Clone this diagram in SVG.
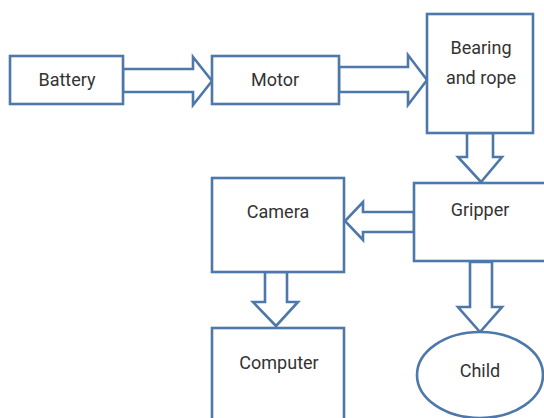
<svg xmlns="http://www.w3.org/2000/svg" width="544" height="418" viewBox="0 0 544 418">
<style>
.box{fill:#ffffff;stroke:#4e77aa;stroke-width:2.6}
.arr{fill:#ffffff;stroke:#4e77aa;stroke-width:2.6;stroke-linejoin:miter}
.lbl{font-family:Roboto,"Liberation Sans",sans-serif;font-size:18px;fill:#333333;text-anchor:middle}
</style>
<rect width="544" height="418" fill="#ffffff"/>
<g id="connectors">
<polygon class="arr" points="123,69 193,69 193,57 212,81 193,105 193,92 123,92"/>
<polygon class="arr" points="339,67 408,67 408,55 427,80 408,105 408,92 339,92"/>
<polygon class="arr" points="467,133 493,133 493,157 502,157 481,182 458,157 467,157"/>
<polygon class="arr" points="414,212 363,212 363,202 345,221 363,240 363,232 414,232"/>
<polygon class="arr" points="265,272 287,272 287,302 298,302 276,326 253,302 265,302"/>
<polygon class="arr" points="470,262 492,262 492,307 502,307 480,332 458,307 470,307"/>
</g>
<g id="battery">
<rect class="box" x="10" y="56" width="113" height="48"/>
<text class="lbl" x="67" y="86">Battery</text>
</g>
<g id="motor">
<rect class="box" x="212" y="56" width="127" height="48"/>
<text class="lbl" x="275" y="86">Motor</text>
</g>
<g id="bearing">
<rect class="box" x="427" y="14" width="106" height="119"/>
<text class="lbl" x="481" y="54">Bearing</text>
<text class="lbl" x="481" y="84">and rope</text>
</g>
<g id="gripper">
<rect class="box" x="414" y="183" width="140" height="78"/>
<text class="lbl" x="480" y="216">Gripper</text>
</g>
<g id="camera">
<rect class="box" x="212" y="178" width="132" height="94"/>
<text class="lbl" x="278" y="218">Camera</text>
</g>
<g id="computer">
<rect class="box" x="212" y="328" width="132" height="100"/>
<text class="lbl" x="279" y="369">Computer</text>
</g>
<g id="child">
<ellipse class="box" cx="480" cy="375" rx="63" ry="43"/>
<text class="lbl" x="480" y="377">Child</text>
</g>
</svg>
